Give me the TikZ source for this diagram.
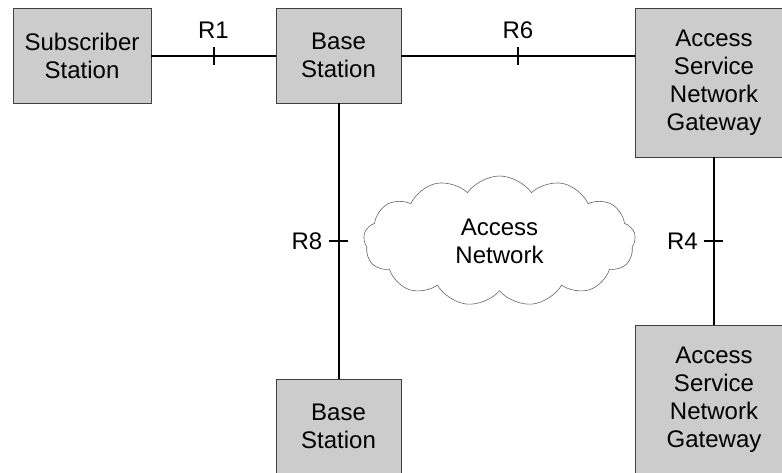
\documentclass[tikz,border=0pt]{standalone}
\usepackage{fontspec}
\setmainfont{Liberation Sans}
\usetikzlibrary{shapes.symbols}
\begin{document}
\begin{tikzpicture}[x=1pt,y=-1pt,
  box/.style={draw=black!75,line width=0.8pt,fill=black!20,align=center,inner sep=0pt,
    font=\fontsize{24}{28}\selectfont},
  link/.style={line width=2pt,black},
  ticklbl/.style={font=\fontsize{24}{26}\selectfont,inner sep=0pt}]
\useasboundingbox (0,0) rectangle (782,472);
\clip (0,0) rectangle (782,472);
\fill[white] (0,0) rectangle (782,472);
\node[box,minimum width=138pt,minimum height=95pt] (ss) at (82,55.5) {Subscriber\\Station};
\node[box,minimum width=125pt,minimum height=95pt] (bs1) at (338.5,55.5) {Base\\Station};
\node[box,minimum width=158pt,minimum height=149pt] (asn1) at (714,82.5) {Access\\Service\\Network\\Gateway};
\node[box,minimum width=125pt,minimum height=95pt] (bs2) at (338.5,426.5) {Base\\Station};
\node[box,minimum width=158pt,minimum height=149pt] (asn2) at (714,399.5) {Access\\Service\\Network\\Gateway};
\node[cloud,draw=black!60,line width=0.6pt,cloud puffs=13,cloud puff arc=110,aspect=2.1,
  minimum width=272pt,minimum height=130pt,align=center,inner sep=0pt,
  font=\fontsize{24}{28}\selectfont] (an) at (499.5,241) {Access\\Network};
\draw[link] (ss.east) -- coordinate (t1) (bs1.west);
\draw[link] (bs1.east) -- coordinate (t6) (bs1.east -| asn1.west);
\draw[link] (bs1.south) -- coordinate (t8) (bs2.north);
\draw[link] (asn1.south) -- coordinate (t4) (asn2.north);
\draw[link] ([yshift=-9pt]t1) -- ([yshift=9pt]t1);
\draw[link] ([yshift=-9pt]t6) -- ([yshift=9pt]t6);
\draw[link] ([xshift=-10pt]t8) -- ([xshift=9pt]t8);
\draw[link] ([xshift=-10pt]t4) -- ([xshift=9pt]t4);
\node[ticklbl] (l1) at ([yshift=25pt]t1) {R1};
\node[ticklbl] (l6) at ([yshift=25pt]t6) {R6};
\node[ticklbl,anchor=east] (l8) at ([xshift=-16pt]t8) {R8};
\node[ticklbl,anchor=east] (l4) at ([xshift=-16pt]t4) {R4};
\end{tikzpicture}
\end{document}
